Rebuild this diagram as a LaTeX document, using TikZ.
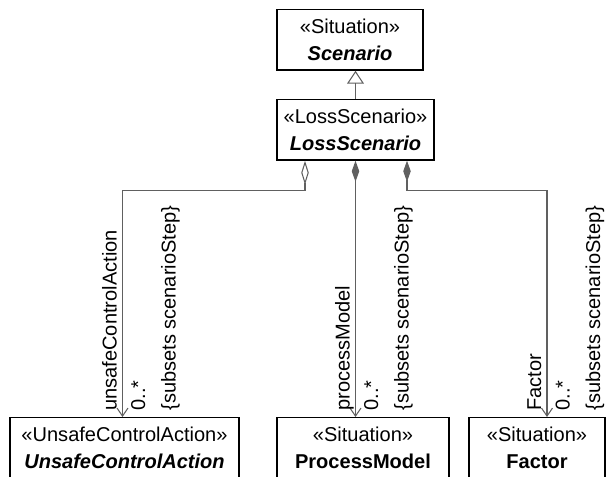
\documentclass[tikz,border=0pt]{standalone}
\usepackage{fontspec}
\setmainfont{Liberation Sans}
\usetikzlibrary{arrows.meta}
\definecolor{linkgray}{RGB}{96,96,96}
\tikzset{
  umlbox/.style={draw, line width=0.85pt, anchor=north, align=center, inner ysep=0.19cm,
    font=\fontsize{11.4}{15.1}\selectfont},
  cutbox/.style={umlbox, text depth=0.3cm},
  link/.style={draw=linkgray, line width=0.6pt},
  role/.style={rotate=90, anchor=base west, inner sep=0pt, font=\fontsize{11.4}{13}\selectfont}
}

\begin{document}
\begin{tikzpicture}
\useasboundingbox (0,0) rectangle (12.12,-9.54);

\node[umlbox, minimum width=2.92cm] (scen) at (7.00,-0.18) {«Situation»\\\textbf{\textit{Scenario}}};
\node[umlbox, minimum width=3.14cm] (loss) at (7.11,-1.98) {«LossScenario»\\\textbf{\textit{LossScenario}}};

\node[cutbox, minimum width=4.58cm] (uca) at (2.49,-8.34) {«UnsafeControlAction»\\\textbf{\textit{UnsafeControlAction}}};
\node[cutbox, minimum width=3.44cm] (pm) at (7.26,-8.34) {«Situation»\\\textbf{ProcessModel}};
\node[cutbox, minimum width=2.72cm] (fac) at (10.74,-8.34) {«Situation»\\\textbf{Factor}};

\draw[link, -{Triangle[open,length=0.26cm,width=0.34cm]}] (loss.north) -- (loss.north |- scen.south);

\coordinate (ucain) at ([xshift=-0.04cm]uca.north);
\coordinate (pmin) at (loss.south |- pm.north);
\coordinate (facin) at ([xshift=0.2cm]fac.north);

\draw[link, {Diamond[open,fill=white,length=0.48cm,width=0.15cm]}-{Straight Barb[length=0.16cm,width=0.22cm]}]
  ([xshift=-1.01cm]loss.south) -- ++(0,-0.6) -| (ucain);
\draw[link, {Diamond[length=0.42cm,width=0.15cm]}-{Straight Barb[length=0.16cm,width=0.22cm]}]
  (loss.south) -- (pmin);
\draw[link, {Diamond[length=0.42cm,width=0.15cm]}-{Straight Barb[length=0.16cm,width=0.22cm]}]
  ([xshift=1.03cm]loss.south) -- ++(0,-0.6) -| (facin);

\node[role] (ucaname) at ([shift={(-0.12,0.12)}]ucain) {unsafeControlAction};
\node[role] (ucamult) at ([shift={(0.45,0.12)}]ucain) {0..*};
\node[role] (ucasub) at ([shift={(1.06,0.12)}]ucain) {\{subsets scenarioStep\}};

\node[role] (pmname) at ([shift={(-0.12,0.12)}]pmin) {processModel};
\node[role] (pmmult) at ([shift={(0.45,0.12)}]pmin) {0..*};
\node[role] (pmsub) at ([shift={(1.06,0.12)}]pmin) {\{subsets scenarioStep\}};

\node[role] (facname) at ([shift={(-0.12,0.12)}]facin) {Factor};
\node[role] (facmult) at ([shift={(0.45,0.12)}]facin) {0..*};
\node[role] (facsub) at ([shift={(1.06,0.12)}]facin) {\{subsets scenarioStep\}};
\end{tikzpicture}
\end{document}
